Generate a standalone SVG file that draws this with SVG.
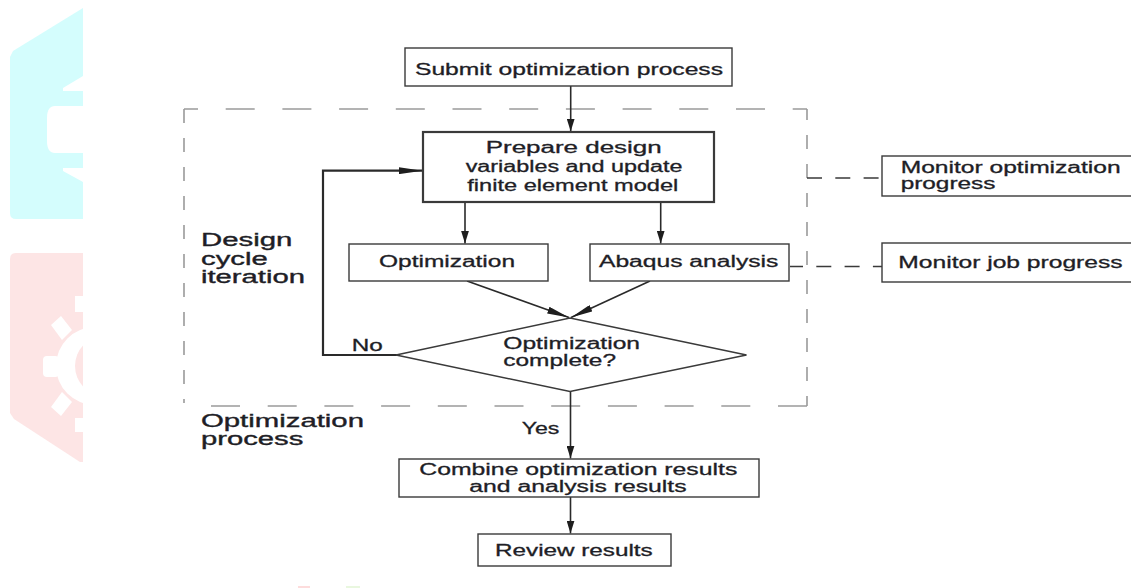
<svg xmlns="http://www.w3.org/2000/svg" width="1131" height="588" viewBox="0 0 1131 588">
  <style>
    .box { fill: #ffffff; stroke: #3a3a3a; stroke-width: 1.4; }
    .thick { stroke-width: 2.2; }
    .t { font-family: "Liberation Sans", Arial, sans-serif; font-size: 16px; fill: #1e1e26; stroke: #1e1e26; stroke-width: 0.3; }
    .lbl { font-family: "Liberation Sans", Arial, sans-serif; font-size: 17.5px; fill: #1e1e26; stroke: #1e1e26; stroke-width: 0.35; }
    .conn { fill: none; stroke: #2a2a2a; stroke-width: 1.6; }
    .loop { fill: none; stroke: #2a2a2a; stroke-width: 2.2; }
    .dashH { fill: none; stroke: #9a9a9a; stroke-width: 1.6; stroke-dasharray: 29 27.7; }
    .dashV { fill: none; stroke: #9a9a9a; stroke-width: 1.6; stroke-dasharray: 14 15; }
    .mon { fill: none; stroke: #3a3a3a; stroke-width: 1.3; stroke-dasharray: 15 13.3; }
    .head { fill: #1e1e1e; }
  </style>
  <defs>
    <marker id="ahDown" viewBox="0 0 13 8" refX="13" refY="4" markerWidth="13" markerHeight="8" orient="auto" markerUnits="userSpaceOnUse">
      <path class="head" d="M0,0 L13,4 L0,8 Z"/>
    </marker>
    <marker id="ahLong" viewBox="0 0 24 7" refX="24" refY="3.5" markerWidth="24" markerHeight="7" orient="auto" markerUnits="userSpaceOnUse">
      <path class="head" d="M0,0 L24,3.5 L0,7 Z"/>
    </marker>
    <marker id="ahDiag" viewBox="0 0 22 7" refX="22" refY="3.5" markerWidth="22" markerHeight="7" orient="auto" markerUnits="userSpaceOnUse">
      <path class="head" d="M0,0 L22,3.5 L0,7 Z"/>
    </marker>
    <clipPath id="wmClip"><rect x="0" y="0" width="83" height="588"/></clipPath>
  </defs>

  <rect x="0" y="0" width="1131" height="588" fill="#ffffff"/>

  <!-- faint watermark -->
  <g id="watermark" clip-path="url(#wmClip)">
    <path d="M10,57 L13,51 L83,8 L83,219 L16,219 Q10,219 10,213 Z" fill="#d4fdfd"/>
    <polygon points="83,76 63,88 63,91 83,91" fill="#ffffff"/>
    <path d="M83,106 L55,106 Q47,106 47,118 L47,141 Q47,153 55,153 L83,153 Z" fill="#ffffff"/>
    <polygon points="83,168 63,168 63,171 83,182" fill="#ffffff"/>
    <path d="M10,259 Q10,253 16,253 L83,253 L83,462 L80,462 L14,419 L10,413 Z" fill="#fde5e5"/>
    <circle cx="95" cy="366" r="39" fill="#ffffff"/>
    <rect x="43" y="356" width="16" height="21" rx="4" fill="#ffffff"/>
    <polygon points="51,325 61,316 72,330 62,340" fill="#ffffff"/>
    <polygon points="51,407 61,416 72,402 62,392" fill="#ffffff"/>
    <rect x="75" y="296" width="10" height="16" fill="#ffffff"/>
    <rect x="75" y="418" width="10" height="14" fill="#ffffff"/>
    <circle cx="105" cy="366" r="30" fill="#fde5e5"/>
  </g>
  <rect x="298" y="586" width="12" height="2" fill="#fddcdc"/>
  <rect x="346" y="586" width="14" height="2" fill="#e9f7df"/>

  <!-- dashed optimization process boundary -->
  <g id="process-boundary">
    <path class="dashH" d="M184,109 H807" stroke-dashoffset="15"/>
    <path class="dashH" d="M807,406 H209"/>
    <path class="dashV" d="M184,109 V403"/>
    <path class="dashV" d="M807,109 V406" stroke-dashoffset="3"/>
  </g>

  <!-- connectors -->
  <g id="connectors">
    <line class="conn" x1="570.7" y1="86" x2="570.7" y2="131.5" marker-end="url(#ahDown)"/>
    <line class="conn" x1="465" y1="202" x2="465" y2="243.5" marker-end="url(#ahDown)"/>
    <line class="conn" x1="660.7" y1="202" x2="660.7" y2="243.5" marker-end="url(#ahDown)"/>
    <line class="conn" x1="467" y1="281" x2="569" y2="317.5" marker-end="url(#ahDiag)"/>
    <line class="conn" x1="650" y1="281" x2="571" y2="317.5" marker-end="url(#ahDiag)"/>
    <polyline class="loop" points="397,355 323,355 323,170.7 422.5,170.7" marker-end="url(#ahLong)"/>
    <line class="conn" x1="570.5" y1="391" x2="570.5" y2="458.5" marker-end="url(#ahDown)"/>
    <line class="conn" x1="570.5" y1="497" x2="570.5" y2="533.5" marker-end="url(#ahDown)"/>
    <line class="mon" x1="807" y1="178" x2="882" y2="178"/>
    <line class="mon" x1="790" y1="266.5" x2="882" y2="266.5" stroke-dashoffset="2"/>
  </g>

  <!-- nodes -->
  <g id="submit">
    <rect class="box" x="405" y="48" width="327" height="38"/>
    <text class="t" x="415" y="75" textLength="308" lengthAdjust="spacingAndGlyphs">Submit optimization process</text>
  </g>
  <g id="prepare">
    <rect class="box thick" x="423" y="132" width="291" height="70"/>
    <text class="t" x="485.7" y="153" textLength="176" lengthAdjust="spacingAndGlyphs">Prepare design</text>
    <text class="t" x="465.7" y="172" textLength="216.7" lengthAdjust="spacingAndGlyphs">variables and update</text>
    <text class="t" x="467.3" y="190.5" textLength="211" lengthAdjust="spacingAndGlyphs">finite element model</text>
  </g>
  <g id="optimization">
    <rect class="box" x="349" y="244" width="199" height="37"/>
    <text class="t" x="379" y="267" textLength="136" lengthAdjust="spacingAndGlyphs">Optimization</text>
  </g>
  <g id="abaqus">
    <rect class="box" x="590" y="244" width="199" height="37"/>
    <text class="t" x="599" y="267" textLength="179.3" lengthAdjust="spacingAndGlyphs">Abaqus analysis</text>
  </g>
  <g id="decision">
    <polygon class="box" points="570,318 746.5,355 570,391.5 396,355"/>
    <text class="t" x="503.3" y="349" textLength="136.7" lengthAdjust="spacingAndGlyphs">Optimization</text>
    <text class="t" x="503.3" y="366" textLength="112.7" lengthAdjust="spacingAndGlyphs">complete?</text>
  </g>
  <g id="combine">
    <rect class="box" x="399" y="459" width="360" height="38"/>
    <text class="t" x="419.3" y="475" textLength="318" lengthAdjust="spacingAndGlyphs">Combine optimization results</text>
    <text class="t" x="469.3" y="491.7" textLength="217.3" lengthAdjust="spacingAndGlyphs">and analysis results</text>
  </g>
  <g id="review">
    <rect class="box" x="478" y="534" width="193" height="32"/>
    <text class="t" x="495" y="556" textLength="157.7" lengthAdjust="spacingAndGlyphs">Review results</text>
  </g>
  <g id="monitor-optimization">
    <rect class="box" x="882" y="156" width="270" height="40"/>
    <text class="t" x="900.7" y="173.3" textLength="220" lengthAdjust="spacingAndGlyphs">Monitor optimization</text>
    <text class="t" x="900.7" y="188.5" textLength="94.7" lengthAdjust="spacingAndGlyphs">progress</text>
  </g>
  <g id="monitor-job">
    <rect class="box" x="882" y="243" width="270" height="39"/>
    <text class="t" x="898.3" y="268.3" textLength="224.3" lengthAdjust="spacingAndGlyphs">Monitor job progress</text>
  </g>

  <!-- labels -->
  <g id="labels">
    <text class="lbl" x="201" y="246" textLength="91.3" lengthAdjust="spacingAndGlyphs">Design</text>
    <text class="lbl" x="201" y="264.5" textLength="66.7" lengthAdjust="spacingAndGlyphs">cycle</text>
    <text class="lbl" x="201" y="283" textLength="104" lengthAdjust="spacingAndGlyphs">iteration</text>
    <text class="lbl" x="201" y="426.5" textLength="163" lengthAdjust="spacingAndGlyphs">Optimization</text>
    <text class="lbl" x="201" y="444.5" textLength="102.3" lengthAdjust="spacingAndGlyphs">process</text>
    <text class="t" x="351.7" y="351" textLength="31" lengthAdjust="spacingAndGlyphs">No</text>
    <text class="t" x="521.7" y="434" textLength="37.7" lengthAdjust="spacingAndGlyphs">Yes</text>
  </g>
</svg>
